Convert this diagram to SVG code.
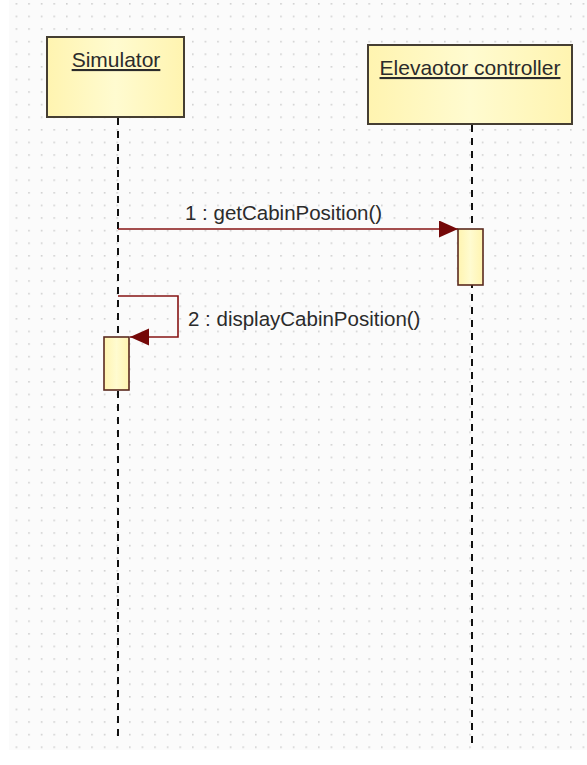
<svg xmlns="http://www.w3.org/2000/svg" width="587" height="765" viewBox="0 0 587 765">
<defs>
<pattern id="grid" x="3" y="3" width="12.6" height="12.6" patternUnits="userSpaceOnUse">
<rect x="0" y="0" width="1.6" height="1.6" fill="#cfcfcf"/>
</pattern>
<linearGradient id="boxfill" x1="0" y1="0" x2="1" y2="0">
<stop offset="0" stop-color="#fff4b0"/>
<stop offset="0.5" stop-color="#fffbd0"/>
<stop offset="1" stop-color="#fff4b0"/>
</linearGradient>
<marker id="arrow" markerUnits="userSpaceOnUse" markerWidth="22" markerHeight="18" refX="19" refY="8.5" orient="auto">
<path d="M0,0 L19,8.5 L0,17 Z" fill="#740808"/>
</marker>
<style>
.bg{fill:#fbfbfb;}
.obj{fill:url(#boxfill);stroke:#453e32;stroke-width:2;}
.act{fill:url(#boxfill);stroke:#5a2a1e;stroke-width:1.6;}
.life{stroke:#111;stroke-width:2;stroke-dasharray:7 6;fill:none;}
.msg{stroke:#871414;stroke-width:1.6;fill:none;}
.name{font-family:"Liberation Sans",Arial,sans-serif;font-size:21px;fill:#2b2b2b;text-anchor:middle;text-decoration:underline;}
.lbl{font-family:"Liberation Sans",Arial,sans-serif;font-size:20.5px;fill:#2b2b2b;}
</style>
</defs>
<rect x="0" y="0" width="587" height="765" fill="#ffffff"/>
<rect class="bg" x="9" y="0" width="578" height="750"/>
<rect x="9" y="0" width="578" height="750" fill="url(#grid)"/>

<g id="connectors">
<line class="life" x1="118" y1="118" x2="118" y2="740"/>
<line class="life" x1="472" y1="125" x2="472" y2="746"/>
<line id="msg1" class="msg" x1="118" y1="229" x2="458" y2="229" marker-end="url(#arrow)"/>
<path id="msg2" class="msg" d="M118,296 H178 V337 H130" marker-end="url(#arrow)"/>
</g>

<g id="simulator">
<rect class="obj" x="47" y="37" width="137" height="80"/>
<text class="name" x="116" y="67">Simulator</text>
</g>

<g id="elevator-controller">
<rect class="obj" x="368" y="45" width="204" height="79"/>
<text class="name" x="470" y="75">Elevaotor controller</text>
</g>

<g id="activation-controller">
<rect class="act" x="458" y="229" width="25" height="56"/>
</g>

<g id="activation-simulator">
<rect class="act" x="104" y="337" width="25" height="53"/>
</g>

<g id="labels">
<text class="lbl" x="185" y="220">1 : getCabinPosition()</text>
<text class="lbl" x="188" y="326">2 : displayCabinPosition()</text>
</g>
</svg>
